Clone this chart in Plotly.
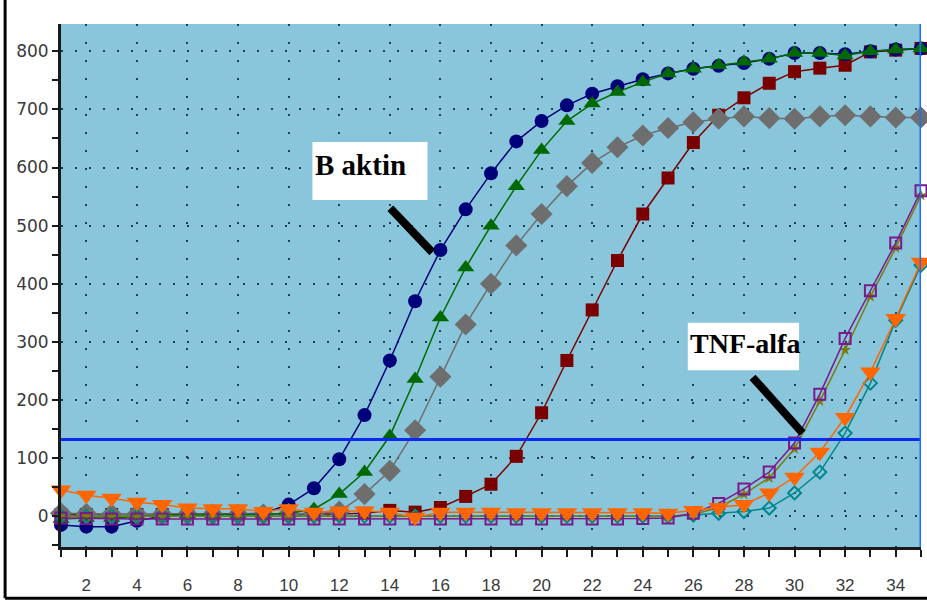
import plotly.graph_objects as go

cycles = list(range(1, 36))

b_aktin_navy = [-15, -18, -18, -8, 0, 2, 3, 4, 5, 20, 48, 98, 174, 268, 370, 458, 528, 590,
                645, 680, 707, 727, 740, 752, 762, 770, 775, 780, 787, 797, 797, 795, 800, 803, 805]
b_aktin_green = [-5, -3, -3, 0, 2, 3, 3, 3, 3, 5, 12, 38, 76, 138, 236, 342, 428, 500,
                 568, 630, 680, 710, 730, 747, 762, 770, 776, 782, 787, 797, 797, 793, 800, 803, 805]
b_aktin_gray = [5, 4, 3, 3, 3, 3, 3, 3, 3, 4, 5, 8, 38, 78, 148, 240, 330, 400,
                466, 520, 568, 608, 635, 655, 668, 678, 684, 688, 685, 684, 688, 690, 688, 686, 686]
b_aktin_red = [3, 3, 3, 3, 3, 3, 3, 3, 3, 3, 3, 4, 5, 10, 7, 15, 34, 55,
               103, 178, 268, 355, 440, 520, 582, 643, 690, 720, 745, 765, 771, 776, 799, 802, 805]
tnf_purple = [-3, -4, -5, -5, -5, -5, -5, -5, -5, -5, -5, -5, -5, -5, -5, -5, -5, -5,
              -5, -5, -5, -5, -5, -4, -3, 5, 22, 47, 76, 126, 210, 306, 388, 470, 560]
tnf_olive = [0, 0, 0, 0, 0, 0, 0, 0, 0, 0, 0, 0, 0, 0, 0, 0, 0, 0,
             0, 0, 0, 0, 0, 0, 0, 3, 15, 38, 66, 116, 198, 286, 378, 462, 552]
tnf_teal = [0, 0, 0, 0, 0, 0, 0, 0, 0, 0, 0, 0, 0, 0, 0, 0, 0, 0,
            0, 0, 0, 0, 0, 0, 0, 2, 5, 8, 14, 40, 76, 143, 229, 337, 432]
tnf_orange = [45, 36, 31, 24, 20, 14, 13, 13, 8, 13, 7, 9, 9, 7, -2, 7, 7, 7,
              6, 6, 6, 6, 6, 6, 5, 10, 15, 20, 40, 67, 110, 170, 248, 340, 437]

threshold = 132
x_ticks = list(range(2, 35, 2))
y_ticks = list(range(0, 801, 100))

fig = go.Figure()

def add(y, color, symbol, size, open_=False, lw=1.5):
    if open_:
        marker = dict(symbol=symbol, size=size, color=color,
                      line=dict(color=color, width=2))
    else:
        marker = dict(symbol=symbol, size=size, color=color, line=dict(width=0))
    fig.add_trace(go.Scatter(x=cycles, y=y, mode="lines+markers",
                             line=dict(color=color, width=lw), marker=marker,
                             cliponaxis=False, showlegend=False))

add(b_aktin_red, "#7A0000", "square", 13)
add(b_aktin_navy, "#00007A", "circle", 14)
add(b_aktin_gray, "#6E6E6E", "diamond", 17)
add(b_aktin_green, "#006A00", "triangle-up", 15)
add(tnf_teal, "#00868B", "diamond-open", 10, open_=True)
add(tnf_olive, "#7A7A10", "star", 9)
add(tnf_purple, "#7A1A8A", "square-open", 11, open_=True)
add(tnf_orange, "#FF6600", "triangle-down", 18)

# threshold line
fig.add_shape(type="line", xref="x", yref="y", x0=1, x1=35, y0=threshold, y1=threshold,
              line=dict(color="#0A2AF0", width=3), layer="above")
# right blue border
fig.add_shape(type="line", xref="x", yref="paper", x0=35, x1=35, y0=0, y1=1,
              line=dict(color="#1E6BFF", width=3), layer="above")

# label boxes
fig.add_shape(type="rect", xref="x", yref="y", x0=10.94, x1=15.49, y0=544, y1=644,
              fillcolor="white", line=dict(width=0), layer="above")
fig.add_shape(type="rect", xref="x", yref="y", x0=25.78, x1=30.18, y0=251, y1=333,
              fillcolor="white", line=dict(width=0), layer="above")
fig.add_annotation(x=10.98, y=604, xref="x", yref="y", text="B aktin", showarrow=False,
                   xanchor="left", yanchor="middle",
                   font=dict(family="Liberation Serif", size=29, color="black", weight="bold"))
fig.add_annotation(x=25.8, y=297, xref="x", yref="y", text="TNF-alfa", showarrow=False,
                   xanchor="left", yanchor="middle",
                   font=dict(family="Liberation Serif", size=28, color="black", weight="bold"))
# pointer lines
fig.add_shape(type="line", xref="x", yref="y", x0=14.02, y0=530, x1=15.68, y1=454,
              line=dict(color="black", width=8), layer="above")
fig.add_shape(type="line", xref="x", yref="y", x0=28.34, y0=239, x1=30.32, y1=143,
              line=dict(color="black", width=8), layer="above")

# outer frame (left and bottom)
fig.add_shape(type="line", xref="paper", yref="paper", x0=-0.065, x1=-0.065, y0=-0.098, y1=1.06,
              line=dict(color="black", width=3), layer="above")
fig.add_shape(type="line", xref="paper", yref="paper", x0=-0.065, x1=1.01, y0=-0.098, y1=-0.098,
              line=dict(color="black", width=3), layer="above")

fig.update_layout(
    width=927, height=605,
    margin=dict(l=61, r=6, t=24, b=58),
    paper_bgcolor="white",
    plot_bgcolor="#8AC6DB",
    xaxis=dict(range=[1, 35], tickvals=x_ticks, ticktext=[str(v) for v in x_ticks],
               showgrid=True, gridcolor="#1F3F55", gridwidth=2, griddash="2px,16px",
               showline=True, linecolor="#1a1a1a", linewidth=3,
               ticks="outside", ticklen=7, tickwidth=2, tickcolor="#1a1a1a",
               minor=dict(dtick=1, tick0=1, ticks="outside", ticklen=7, tickwidth=2,
                          tickcolor="#1a1a1a", showgrid=False),
               ticklabelstandoff=14,
               tickfont=dict(family="Liberation Sans", size=17, color="#3a3a3a"),
               zeroline=False),
    yaxis=dict(range=[-53, 847], tickvals=y_ticks, ticktext=[str(v) for v in y_ticks],
               showgrid=True, gridcolor="#1F3F55", gridwidth=2, griddash="2px,12px",
               showline=True, linecolor="#1a1a1a", linewidth=3,
               ticks="outside", ticklen=6, tickwidth=2, tickcolor="#1a1a1a",
               minor=dict(dtick=50, tick0=0, ticks="outside", ticklen=6, tickwidth=2,
                          tickcolor="#1a1a1a", showgrid=False),
               tickfont=dict(family="DejaVu Sans", size=17, color="#3a3a3a"),
               zeroline=False),
)

fig.write_html("out.html", config={"displayModeBar": False},
               post_script="document.body.style.margin='0';")
